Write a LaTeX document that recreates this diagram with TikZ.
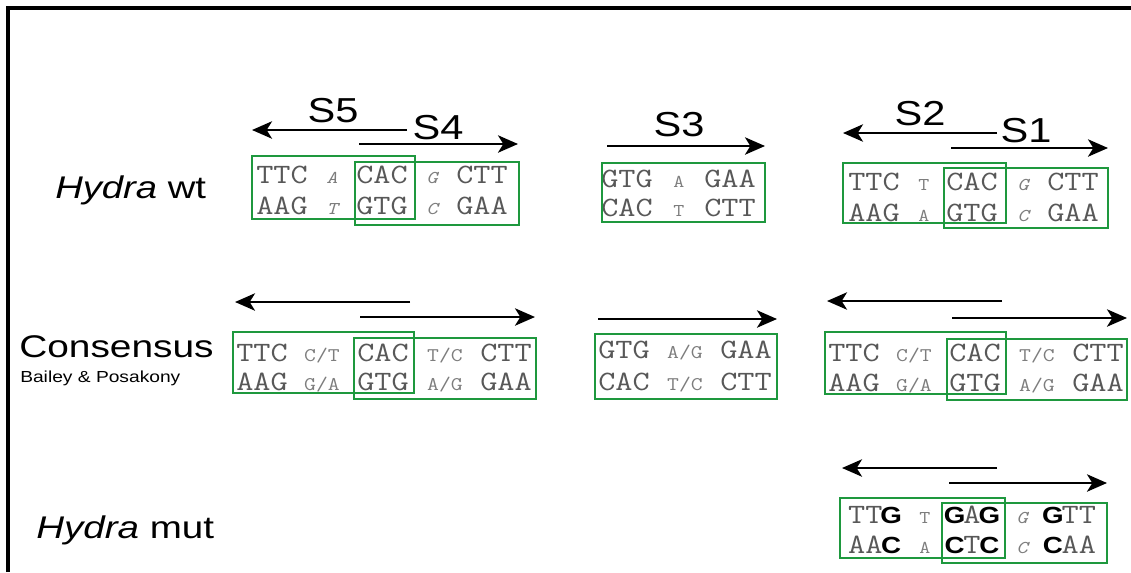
\documentclass[tikz,border=0pt]{standalone}
\usepackage{fontspec}
\newfontfamily\lsans{Liberation Sans}
\usetikzlibrary{arrows.meta}

\definecolor{sitegreen}{RGB}{30,152,62}
\definecolor{basegray}{RGB}{88,88,88}
\definecolor{spacergray}{RGB}{125,125,125}

% base triplets and spacer bases, typewriter, slightly widened
\newcommand\tripl[1]{\scalebox{1.19}[1]{\fontsize{21}{21}\selectfont\ttfamily #1}}
\newcommand\spc[1]{\scalebox{1.19}[1]{\fontsize{13.5}{13.5}\selectfont\ttfamily #1}}
\newcommand\spcc[1]{\scalebox{1.19}[1]{\fontsize{14.5}{14.5}\selectfont\ttfamily #1}}
\newcommand\spci[1]{\scalebox{1.19}[1]{\fontsize{13.5}{13.5}\selectfont\ttfamily\itshape #1}}
% mutated base: bold sans in a typewriter cell
\newcommand\mutb[1]{\makebox[0.525em]{\color{black}\lsans\bfseries\fontsize{17.5}{17.5}\selectfont #1}}
\newcommand\widen[2]{\scalebox{#1}[1]{#2}}
% one base group: name, x, baseline, content
\newcommand\bp[4]{\node[seq] (#1) at (#2,#3) {#4};}
\newcommand\spb[4]{\node[seq,spacer] (#1) at (#2,#3) {#4};}

\begin{document}
\begin{tikzpicture}[x=0.75pt,y=-0.75pt,
  frame/.style={line width=3pt},
  rowlab/.style={inner sep=0,anchor=base west,font=\lsans\fontsize{23.5}{23.5}\selectfont},
  sublab/.style={inner sep=0,anchor=base west,font=\lsans\fontsize{12}{12}\selectfont},
  slab/.style={inner sep=0,font=\lsans\fontsize{26}{26}\selectfont},
  seq/.style={inner sep=0,anchor=base,text=basegray},
  spacer/.style={text=spacergray},
  site/.style={draw=sitegreen,line width=2.2pt},
  orient/.style={line width=1.9pt,-{Stealth[length=15pt,width=13pt,inset=4pt]}}]

\useasboundingbox (0,0) rectangle (1131,572);
\draw[frame] (8,572) -- (8,8) -- (1131,8);

% row labels
\node[rowlab] (wt) at (55,198) {\widen{1.22}{\textit{Hydra} wt}};
\node[rowlab] (cons) at (19,357) {\widen{1.24}{Consensus}};
\node[sublab] (bp) at (20,382) {\widen{1.2}{Bailey \& Posakony}};
\node[rowlab] (mut) at (36,538) {\widen{1.23}{\textit{Hydra} mut}};

% site labels
\node[slab] (s5) at (333,111) {\widen{1.2}{S5}};
\node[slab] (s4) at (438,128) {\widen{1.2}{S4}};
\node[slab] (s3) at (679,125) {\widen{1.2}{S3}};
\node[slab] (s2) at (920,114) {\widen{1.2}{S2}};
\node[slab] (s1) at (1026,131) {\widen{1.2}{S1}};

% ---- Hydra wt, S5/S4 ----
\bp{wa1}{282}{183}{\tripl{TTC}} \spb{wa2}{332}{183}{\spci{A}} \bp{wa3}{382}{183}{\tripl{CAC}} \spb{wa4}{432}{183}{\spci{G}} \bp{wa5}{482}{183}{\tripl{CTT}}
\bp{wb1}{282}{214}{\tripl{AAG}} \spb{wb2}{332}{214}{\spci{T}} \bp{wb3}{382}{214}{\tripl{GTG}} \spb{wb4}{432}{214}{\spci{C}} \bp{wb5}{482}{214}{\tripl{GAA}}
\draw[site] (252,156) rectangle (415,219);
\draw[site] (355,162) rectangle (519,225);
\coordinate (s5a) at (407,130); \coordinate (s5b) at (252,130);
\coordinate (s4a) at (359,144); \coordinate (s4b) at (518,144);
\draw[orient] (s5a) -- (s5b);
\draw[orient] (s4a) -- (s4b);

% ---- Hydra wt, S3 ----
\bp{wc1}{627}{187}{\tripl{GTG}} \spb{wc2}{679}{187}{\spc{A}} \bp{wc3}{730}{187}{\tripl{GAA}}
\bp{wd1}{627}{216}{\tripl{CAC}} \spb{wd2}{679}{216}{\spc{T}} \bp{wd3}{730}{216}{\tripl{CTT}}
\draw[site] (602,163) rectangle (765,222);
\coordinate (s3a) at (607,146); \coordinate (s3b) at (765,146);
\draw[orient] (s3a) -- (s3b);

% ---- Hydra wt, S2/S1 ----
\bp{we1}{874}{190}{\tripl{TTC}} \spb{we2}{924}{190}{\spc{T}} \bp{we3}{972}{190}{\tripl{CAC}} \spb{we4}{1023}{190}{\spci{G}} \bp{we5}{1073}{190}{\tripl{CTT}}
\bp{wf1}{874}{221}{\tripl{AAG}} \spb{wf2}{924}{221}{\spc{A}} \bp{wf3}{972}{221}{\tripl{GTG}} \spb{wf4}{1023}{221}{\spci{C}} \bp{wf5}{1073}{221}{\tripl{GAA}}
\draw[site] (843,163) rectangle (1006,223);
\draw[site] (944,168) rectangle (1108,228);
\coordinate (s2a) at (997,133); \coordinate (s2b) at (843,133);
\coordinate (s1a) at (951,148); \coordinate (s1b) at (1108,148);
\draw[orient] (s2a) -- (s2b);
\draw[orient] (s1a) -- (s1b);

% ---- Consensus, left pair ----
\bp{ca1}{262}{361}{\tripl{TTC}} \spb{ca2}{322}{361}{\spcc{C/T}} \bp{ca3}{383}{361}{\tripl{CAC}} \spb{ca4}{445}{361}{\spcc{T/C}} \bp{ca5}{506}{361}{\tripl{CTT}}
\bp{cb1}{262}{390}{\tripl{AAG}} \spb{cb2}{322}{390}{\spcc{G/A}} \bp{cb3}{383}{390}{\tripl{GTG}} \spb{cb4}{445}{390}{\spcc{A/G}} \bp{cb5}{506}{390}{\tripl{GAA}}
\draw[site] (233,332) rectangle (414,393);
\draw[site] (354,338) rectangle (536,399);
\coordinate (c1a) at (410,302); \coordinate (c1b) at (235,302);
\coordinate (c2a) at (360,317); \coordinate (c2b) at (535,317);
\draw[orient] (c1a) -- (c1b);
\draw[orient] (c2a) -- (c2b);

% ---- Consensus, middle ----
\bp{cc1}{624}{358}{\tripl{GTG}} \spb{cc2}{685}{358}{\spcc{A/G}} \bp{cc3}{746}{358}{\tripl{GAA}}
\bp{cd1}{624}{390}{\tripl{CAC}} \spb{cd2}{685}{390}{\spcc{T/C}} \bp{cd3}{746}{390}{\tripl{CTT}}
\draw[site] (595,334) rectangle (777,399);
\coordinate (c3a) at (598,319); \coordinate (c3b) at (777,319);
\draw[orient] (c3a) -- (c3b);

% ---- Consensus, right pair ----
\bp{ce1}{854}{361}{\tripl{TTC}} \spb{ce2}{914}{361}{\spcc{C/T}} \bp{ce3}{975}{361}{\tripl{CAC}} \spb{ce4}{1037}{361}{\spcc{T/C}} \bp{ce5}{1098}{361}{\tripl{CTT}}
\bp{cf1}{854}{391}{\tripl{AAG}} \spb{cf2}{914}{391}{\spcc{G/A}} \bp{cf3}{975}{391}{\tripl{GTG}} \spb{cf4}{1037}{391}{\spcc{A/G}} \bp{cf5}{1098}{391}{\tripl{GAA}}
\draw[site] (825,332) rectangle (1006,394);
\draw[site] (947,339) rectangle (1127,400);
\coordinate (c4a) at (1002,301); \coordinate (c4b) at (827,301);
\coordinate (c5a) at (952,318); \coordinate (c5b) at (1127,318);
\draw[orient] (c4a) -- (c4b);
\draw[orient] (c5a) -- (c5b);

% ---- Hydra mut ----
\bp{ma1}{874}{523}{\tripl{TT\mutb{G}}} \spb{ma2}{925}{523}{\spc{T}} \bp{ma3}{972}{523}{\tripl{\mutb{G}A\mutb{G}}} \spb{ma4}{1022}{523}{\spci{G}} \bp{ma5}{1070}{523}{\tripl{\mutb{G}TT}}
\bp{mb1}{874}{553}{\tripl{AA\mutb{C}}} \spb{mb2}{925}{553}{\spc{A}} \bp{mb3}{972}{553}{\tripl{\mutb{C}T\mutb{C}}} \spb{mb4}{1022}{553}{\spci{C}} \bp{mb5}{1070}{553}{\tripl{\mutb{C}AA}}
\draw[site] (840,498) rectangle (1005,558);
\draw[site] (942,503) rectangle (1107,563);
\coordinate (m1a) at (997,468); \coordinate (m1b) at (842,468);
\coordinate (m2a) at (949,483); \coordinate (m2b) at (1107,483);
\draw[orient] (m1a) -- (m1b);
\draw[orient] (m2a) -- (m2b);
\end{tikzpicture}
\end{document}
